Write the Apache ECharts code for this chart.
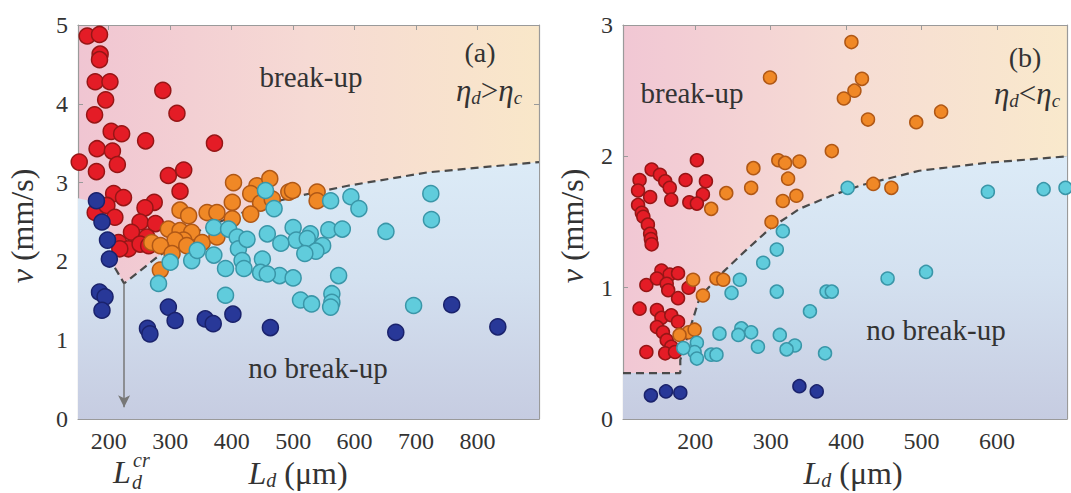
<!DOCTYPE html>
<html>
<head>
<meta charset="utf-8">
<script src="https://cdn.jsdelivr.net/npm/echarts@6/dist/echarts.min.js"></script>
<style>
html,body{margin:0;padding:0;background:#fff}
#c{width:1071px;height:493px}
</style>
</head>
<body>
<div id="c"></div>
<script>
// ---------- Panel (a): eta_d > eta_c ----------
const xTicksA = [200, 300, 400, 500, 600, 700, 800];
const yTicksA = [0, 1, 2, 3, 4, 5];
const redA = [[165,4.86],[185,4.88],[186,4.63],[185,4.56],[178,4.28],[202,4.28],[195,4.05],[177,3.86],[288,4.17],[311,3.88],[204,3.65],[221,3.62],[260,3.53],[372,3.5],[181,3.43],[206,3.4],[152,3.26],[214,3.23],[180,3.14],[297,3.09],[322,3.16],[316,2.89],[208,2.86],[224,2.81],[274,2.75],[259,2.68],[178,2.62],[197,2.71],[210,2.56],[251,2.5],[276,2.48],[237,2.37],[262,2.31],[216,2.24],[232,2.16],[218,2.16],[251,2.22],[265,2.2]];
const orangeA = [[403,3.0],[441,2.96],[462,3.05],[431,2.86],[401,2.75],[447,2.74],[466,2.79],[493,2.88],[316,2.65],[330,2.58],[360,2.62],[376,2.62],[297,2.41],[316,2.39],[335,2.37],[322,2.27],[308,2.27],[327,2.2],[352,2.24],[376,2.31],[270,2.24],[284,2.2],[303,2.1],[284,1.89],[401,2.54],[431,2.6],[499,2.9],[539,2.88],[539,2.77]];
const cyanA = [[455,2.9],[469,2.67],[281,1.72],[300,1.99],[335,2.01],[371,2.43],[371,2.08],[390,1.91],[390,1.57],[395,2.41],[409,2.31],[411,2.16],[417,2.01],[420,1.91],[425,2.28],[450,2.03],[447,1.86],[458,2.35],[478,1.82],[458,1.84],[344,2.14],[561,2.77],[594,2.82],[607,2.67],[724,2.86],[725,2.53],[651,2.38],[500,2.43],[528,2.35],[558,2.4],[580,2.41],[505,2.27],[523,2.29],[548,2.2],[537,2.13],[519,2.1],[480,2.23],[500,1.79],[574,1.82],[512,1.51],[530,1.46],[563,1.59],[563,1.48],[561,1.42],[696,1.44]];
const blueA = [[180,2.77],[189,2.5],[198,2.27],[201,2.03],[185,1.61],[194,1.55],[189,1.38],[263,1.15],[267,1.08],[297,1.42],[308,1.25],[357,1.27],[370,1.21],[402,1.33],[463,1.16],[758,1.45],[667,1.1],[833,1.17]];
// region boundary (no break-up below)
const regionXA = [150, 180, 205, 210, 225, 283, 350, 410, 477, 515, 589, 719, 871, 900];
const regionYA = [2.8, 2.75, 2.3, 1.92, 1.72, 2.08, 2.4, 2.6, 2.77, 2.84, 2.96, 3.13, 3.24, 3.26];
// dashed critical curve
const curveXA = [210, 225, 283, 350, 410, 477, 515, 589, 719, 871, 900];
const curveYA = [1.92, 1.72, 2.08, 2.4, 2.6, 2.77, 2.84, 2.96, 3.13, 3.24, 3.26];
const LcrA = 225;

// ---------- Panel (b): eta_d < eta_c ----------
const xTicksB = [200, 300, 400, 500, 600];
const yTicksB = [0, 1, 2, 3];
const redB = [[202,1.97],[142,1.9],[153,1.86],[160,1.81],[126,1.82],[124,1.74],[140,1.69],[166,1.76],[168,1.67],[187,1.82],[214,1.81],[210,1.71],[192,1.65],[202,1.64],[124,1.63],[129,1.57],[131,1.54],[137,1.48],[140,1.41],[141,1.37],[142,1.33],[135,1.02],[155,1.13],[166,1.1],[177,1.11],[149,1.07],[162,1.03],[164,0.98],[177,0.92],[191,1.0],[126,0.84],[149,0.83],[155,0.77],[149,0.7],[168,0.79],[177,0.74],[157,0.66],[162,0.6],[168,0.55],[135,0.51],[160,0.5],[173,0.51]];
const orangeB = [[299,2.6],[381,2.04],[277,1.91],[310,1.97],[319,1.95],[338,1.96],[323,1.83],[274,1.76],[241,1.72],[221,1.6],[316,1.66],[334,1.7],[407,2.87],[421,2.59],[411,2.5],[397,2.44],[429,2.28],[493,2.26],[526,2.34],[436,1.79],[460,1.76],[301,1.5],[197,1.06],[228,1.07],[237,1.06],[210,0.94],[191,0.66],[199,0.68],[179,0.64]];
const cyanB = [[316,1.43],[308,1.29],[290,1.19],[259,1.06],[248,0.96],[308,0.97],[374,0.97],[381,0.97],[352,0.82],[261,0.69],[274,0.66],[257,0.64],[232,0.65],[283,0.55],[312,0.64],[332,0.56],[321,0.53],[372,0.5],[202,0.58],[199,0.51],[202,0.46],[221,0.49],[228,0.49],[184,0.54],[402,1.76],[588,1.73],[662,1.75],[691,1.76],[455,1.07],[506,1.12]];
const blueB = [[141,0.18],[161,0.21],[180,0.2],[338,0.25],[361,0.21]];
const regionXB = [104, 180, 180, 206, 237, 268, 299, 338, 380, 420, 497, 586, 693];
const regionYB = [0.35, 0.35, 0.45, 0.93, 1.12, 1.29, 1.45, 1.6, 1.7, 1.78, 1.89, 1.95, 2.0];

// ---------- styles ----------
const SERIF = 'Liberation Serif';
const TXT = '#333';
const AX = '#9a9a9a';
const zip = (xs, ys) => xs.map((x, i) => [x, ys[i]]);

const pinkGrad = (c0, c1, c2) => new echarts.graphic.LinearGradient(0, 0, 1, 0, [
  {offset: 0, color: c0}, {offset: 0.5, color: c1}, {offset: 1, color: c2}]);
const blueGrad = () => new echarts.graphic.LinearGradient(0, 0, 0, 1, [
  {offset: 0, color: 'rgb(220,235,247)'}, {offset: 0.45, color: 'rgb(212,225,240)'}, {offset: 1, color: 'rgb(198,204,225)'}]);

function xAxisDef(gi, min, max, ticks, pos, labels) {
  return {
    type: 'value', gridIndex: gi, min, max, position: pos,
    splitLine: {show: false},
    axisLine: {show: true, onZero: false, lineStyle: {color: AX, width: 1.2}},
    axisTick: {show: true, inside: true, length: 5, customValues: ticks, lineStyle: {color: AX}},
    axisLabel: {show: labels, customValues: ticks, color: TXT, fontFamily: SERIF, fontSize: 24, margin: 10}
  };
}
function yAxisDef(gi, max, ticks, pos, labels) {
  return {
    type: 'value', gridIndex: gi, min: 0, max, interval: 1, position: pos,
    splitLine: {show: false},
    axisLine: {show: true, onZero: false, lineStyle: {color: AX, width: 1.2}},
    axisTick: {show: true, inside: true, length: 5, lineStyle: {color: AX}},
    axisLabel: {show: labels, color: TXT, fontFamily: SERIF, fontSize: 24, margin: 10}
  };
}
function scatter(name, data, xi, yi, fill, border, size) {
  return {
    name, type: 'scatter', xAxisIndex: xi, yAxisIndex: yi, data, symbolSize: size, z: 5,
    itemStyle: {color: fill, borderColor: border, borderWidth: 1.5, opacity: 1}
  };
}

const RED = ['rgb(228,28,38)', 'rgb(150,22,22)'];
const ORANGE = ['rgb(240,136,38)', 'rgb(176,88,22)'];
const CYAN = ['rgb(96,204,220)', 'rgb(58,150,168)'];
const BLUE = ['rgb(40,56,152)', 'rgb(26,34,108)'];

const chart = echarts.init(document.getElementById('c'), null, {renderer: 'svg'});

function mathText(x, y, rich, text) {
  return {
    type: 'text', x, y, z: 20,
    style: {text, rich, fill: TXT, align: 'center', verticalAlign: 'middle', fontFamily: SERIF}
  };
}
function plainText(x, y, text, size) {
  return {type: 'text', x, y, z: 20,
    style: {text, fontFamily: SERIF, fontSize: size, fill: TXT, align: 'center', verticalAlign: 'middle'}};
}
const mainRich = (fs) => ({
  i: {fontFamily: SERIF, fontStyle: 'italic', fontSize: fs, lineHeight: fs + 2, verticalAlign: 'middle', color: TXT},
  n: {fontFamily: SERIF, fontSize: fs, lineHeight: fs + 2, verticalAlign: 'middle', color: TXT},
  s: {fontFamily: SERIF, fontStyle: 'italic', fontSize: Math.round(fs * 0.62), lineHeight: Math.round(fs * 0.62), verticalAlign: 'bottom', color: TXT}
});

const yNameA = mathText(22, 226, mainRich(32), '{i|v}{n| (mm/s)}');
yNameA.rotation = Math.PI / 2;
const yNameB = mathText(572, 226, mainRich(32), '{i|v}{n| (mm/s)}');
yNameB.rotation = Math.PI / 2;

const option = {
  backgroundColor: '#fff',
  animation: false,
  textStyle: {fontFamily: SERIF},
  grid: [
    {left: 78, top: 25, width: 461, height: 394, show: true, borderWidth: 0,
     backgroundColor: pinkGrad('rgb(240,197,210)', 'rgb(246,218,212)', 'rgb(249,231,201)')},
    {left: 623, top: 25, width: 444, height: 394, show: true, borderWidth: 0,
     backgroundColor: pinkGrad('rgb(241,199,212)', 'rgb(246,220,212)', 'rgb(249,233,204)')}
  ],
  xAxis: [
    xAxisDef(0, 150, 900, xTicksA, 'bottom', true),
    xAxisDef(1, 104, 693, xTicksB, 'bottom', true),
    xAxisDef(0, 150, 900, xTicksA, 'top', false),
    xAxisDef(1, 104, 693, xTicksB, 'top', false)
  ],
  yAxis: [
    yAxisDef(0, 5, yTicksA, 'left', true),
    yAxisDef(1, 3, yTicksB, 'left', true),
    yAxisDef(0, 5, yTicksA, 'right', false),
    yAxisDef(1, 3, yTicksB, 'right', false)
  ],
  series: [
    {type: 'line', xAxisIndex: 0, yAxisIndex: 0, data: zip(regionXA, regionYA), showSymbol: false, silent: true, z: 1,
     lineStyle: {width: 0, opacity: 0}, areaStyle: {color: blueGrad(), opacity: 1}},
    {type: 'line', xAxisIndex: 0, yAxisIndex: 0, data: zip(curveXA, curveYA), showSymbol: false, silent: true, z: 3,
     lineStyle: {color: '#4a4a4a', width: 2.2, type: [8, 5]},
     markLine: {silent: true, symbol: ['none', 'arrow'], symbolSize: [9, 12], label: {show: false},
       lineStyle: {color: '#777', width: 1.5, type: 'solid'},
       data: [[{coord: [LcrA, curveYA[1]]}, {coord: [LcrA, 0.15]}]]}},
    {type: 'line', xAxisIndex: 1, yAxisIndex: 1, data: zip(regionXB, regionYB), showSymbol: false, silent: true, z: 1,
     lineStyle: {width: 0, opacity: 0}, areaStyle: {color: blueGrad(), opacity: 1}},
    {type: 'line', xAxisIndex: 1, yAxisIndex: 1, data: zip(regionXB, regionYB), showSymbol: false, silent: true, z: 3,
     lineStyle: {color: '#4a4a4a', width: 2.2, type: [8, 5]}},
    scatter('red a', redA, 0, 0, RED[0], RED[1], 16),
    scatter('orange a', orangeA, 0, 0, ORANGE[0], ORANGE[1], 16),
    scatter('cyan a', cyanA, 0, 0, CYAN[0], CYAN[1], 16),
    scatter('blue a', blueA, 0, 0, BLUE[0], BLUE[1], 16),
    scatter('red b', redB, 1, 1, RED[0], RED[1], 13),
    scatter('orange b', orangeB, 1, 1, ORANGE[0], ORANGE[1], 13),
    scatter('cyan b', cyanB, 1, 1, CYAN[0], CYAN[1], 13),
    scatter('blue b', blueB, 1, 1, BLUE[0], BLUE[1], 13)
  ],
  graphic: [
    plainText(311, 77, 'break-up', 29),
    plainText(318, 368, 'no break-up', 29),
    plainText(480, 52, '(a)', 28),
    mathText(489, 90, mainRich(31), '{i|η}{s|d}{n|>}{i|η}{s|c}'),
    plainText(692, 93, 'break-up', 29),
    plainText(936, 330, 'no break-up', 29),
    plainText(1025, 57, '(b)', 28),
    mathText(1027, 93, mainRich(31), '{i|η}{s|d}{n|<}{i|η}{s|c}'),
    mathText(298, 473, mainRich(32), '{i|L}{s|d}{n| (μm)}'),
    mathText(853, 473, mainRich(32), '{i|L}{s|d}{n| (μm)}'),
    yNameA,
    yNameB,
    {type: 'text', x: 122, y: 472, z: 20, style: {text: 'L', fontFamily: SERIF, fontStyle: 'italic', fontSize: 32, fill: TXT, align: 'center', verticalAlign: 'middle'}},
    {type: 'text', x: 133, y: 460, z: 20, style: {text: 'cr', fontFamily: SERIF, fontStyle: 'italic', fontSize: 20, fill: TXT, align: 'left', verticalAlign: 'middle'}},
    {type: 'text', x: 132, y: 482, z: 20, style: {text: 'd', fontFamily: SERIF, fontStyle: 'italic', fontSize: 20, fill: TXT, align: 'left', verticalAlign: 'middle'}}
  ]
};
chart.setOption(option);
</script>
</body>
</html>
